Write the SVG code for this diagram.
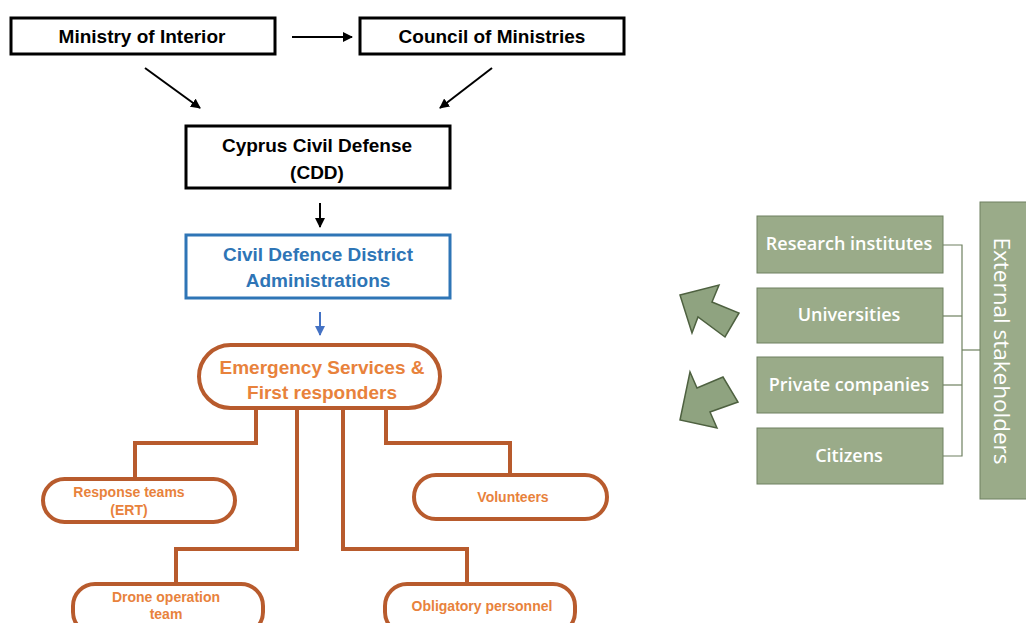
<svg xmlns="http://www.w3.org/2000/svg" width="1026" height="623" viewBox="0 0 1026 623">
<defs>
<style>
.bx{fill:#fff;stroke:#000;stroke-width:3}
.bt{font-family:"Liberation Sans",Arial,sans-serif;font-weight:bold;font-size:19px;fill:#000;text-anchor:middle}
.blue{fill:#fff;stroke:#2E75B6;stroke-width:3}
.btx{font-family:"Liberation Sans",Arial,sans-serif;font-weight:bold;font-size:19px;fill:#2E75B6;text-anchor:middle}
.pill{fill:#fff;stroke:#B85B2D;stroke-width:4}
.ot{font-family:"Liberation Sans",Arial,sans-serif;font-weight:bold;fill:#E8823C;text-anchor:middle}
.oc{fill:none;stroke:#B85B2D;stroke-width:4}
.ar{fill:none;stroke:#000;stroke-width:2}
.gb{fill:#9AAB89;stroke:#6E8060;stroke-width:1}
.gt{font-family:"Open Sans","Noto Sans",sans-serif;font-weight:600;font-size:18px;fill:#fff;text-anchor:middle}
.et{font-family:"Open Sans","Noto Sans",sans-serif;font-weight:400;font-size:22.5px;fill:#fff;text-anchor:middle}
.ga{fill:#8FA380;stroke:#4E6140;stroke-width:1.5}
.gl{fill:none;stroke:#6E8060;stroke-width:1.2}
</style>
<marker id="ah" viewBox="0 0 10 10" refX="9" refY="5" markerWidth="5" markerHeight="5" orient="auto"><path d="M0,0 L10,5 L0,10 z" fill="#000"/></marker>
<marker id="ahb" viewBox="0 0 10 10" refX="9" refY="5" markerWidth="5" markerHeight="5" orient="auto"><path d="M0,0 L10,5 L0,10 z" fill="#4472C4"/></marker>
</defs>

<g id="connectors">
<line class="ar" x1="292" y1="37" x2="352" y2="37" marker-end="url(#ah)"/>
<line class="ar" x1="145" y1="68" x2="200" y2="108" marker-end="url(#ah)"/>
<line class="ar" x1="492" y1="68" x2="440" y2="108" marker-end="url(#ah)"/>
<line class="ar" x1="320" y1="203" x2="320" y2="227" marker-end="url(#ah)"/>
<line x1="320" y1="312" x2="320" y2="335" stroke="#4472C4" stroke-width="2" marker-end="url(#ahb)"/>
<polyline class="oc" points="256,408 256,443 135,443 135,479"/>
<polyline class="oc" points="297,408 297,549 176,549 176,584"/>
<polyline class="oc" points="343,408 343,549 467,549 467,584"/>
<polyline class="oc" points="386,408 386,443 510,443 510,475"/>
<polyline class="gl" points="943,245 962,245 962,456 943,456"/>
<line class="gl" x1="943" y1="316" x2="962" y2="316"/>
<line class="gl" x1="943" y1="385" x2="962" y2="385"/>
<line class="gl" x1="962" y1="350" x2="980" y2="350"/>
<polygon class="ga" points="680,295 719,285 712,302 739,313 725,337 698,317 692,333"/>
<polygon class="ga" points="680,420 690,372 697,388 723,377 738,402 710,412 717,428"/>
</g>

<g id="ministry">
<rect class="bx" x="11" y="18" width="264" height="36"/>
<text class="bt" x="142" y="43">Ministry of Interior</text>
</g>
<g id="council">
<rect class="bx" x="360" y="18" width="264" height="36"/>
<text class="bt" x="492" y="43">Council of Ministries</text>
</g>
<g id="cdd">
<rect class="bx" x="186" y="126" width="264" height="62"/>
<text class="bt" x="317" y="152">Cyprus Civil Defense</text>
<text class="bt" x="317" y="179">(CDD)</text>
</g>
<g id="district">
<rect class="blue" x="186" y="235" width="264" height="63"/>
<text class="btx" x="318" y="261">Civil Defence District</text>
<text class="btx" x="318" y="287">Administrations</text>
</g>
<g id="emergency">
<rect class="pill" x="199" y="345" width="241" height="63" rx="31.5"/>
<text class="ot" x="322" y="374" font-size="19">Emergency Services &amp;</text>
<text class="ot" x="322" y="399" font-size="19">First responders</text>
</g>
<g id="ert">
<rect class="pill" x="43" y="479" width="192" height="43" rx="21.5"/>
<text class="ot" x="129" y="497" font-size="14">Response teams</text>
<text class="ot" x="129" y="515" font-size="14">(ERT)</text>
</g>
<g id="volunteers">
<rect class="pill" x="414" y="475" width="193" height="44" rx="22"/>
<text class="ot" x="513" y="502" font-size="14">Volunteers</text>
</g>
<g id="drone">
<rect class="pill" x="73" y="584" width="190" height="50" rx="22"/>
<text class="ot" x="166" y="602" font-size="14">Drone operation</text>
<text class="ot" x="166" y="619" font-size="14">team</text>
</g>
<g id="obligatory">
<rect class="pill" x="385" y="584" width="190" height="50" rx="22"/>
<text class="ot" x="482" y="611" font-size="14">Obligatory personnel</text>
</g>

<g id="research">
<rect class="gb" x="757" y="216" width="186" height="57"/>
<text class="gt" x="849" y="250">Research institutes</text>
</g>
<g id="universities">
<rect class="gb" x="757" y="288" width="186" height="55"/>
<text class="gt" x="849" y="321">Universities</text>
</g>
<g id="private">
<rect class="gb" x="757" y="357" width="186" height="56"/>
<text class="gt" x="849" y="391">Private companies</text>
</g>
<g id="citizens">
<rect class="gb" x="757" y="428" width="186" height="56"/>
<text class="gt" x="849" y="462">Citizens</text>
</g>
<g id="external">
<rect class="gb" x="980" y="202" width="50" height="297"/>
<text class="et" transform="translate(994,351) rotate(90)" x="0" y="0">External stakeholders</text>
</g>
</svg>
